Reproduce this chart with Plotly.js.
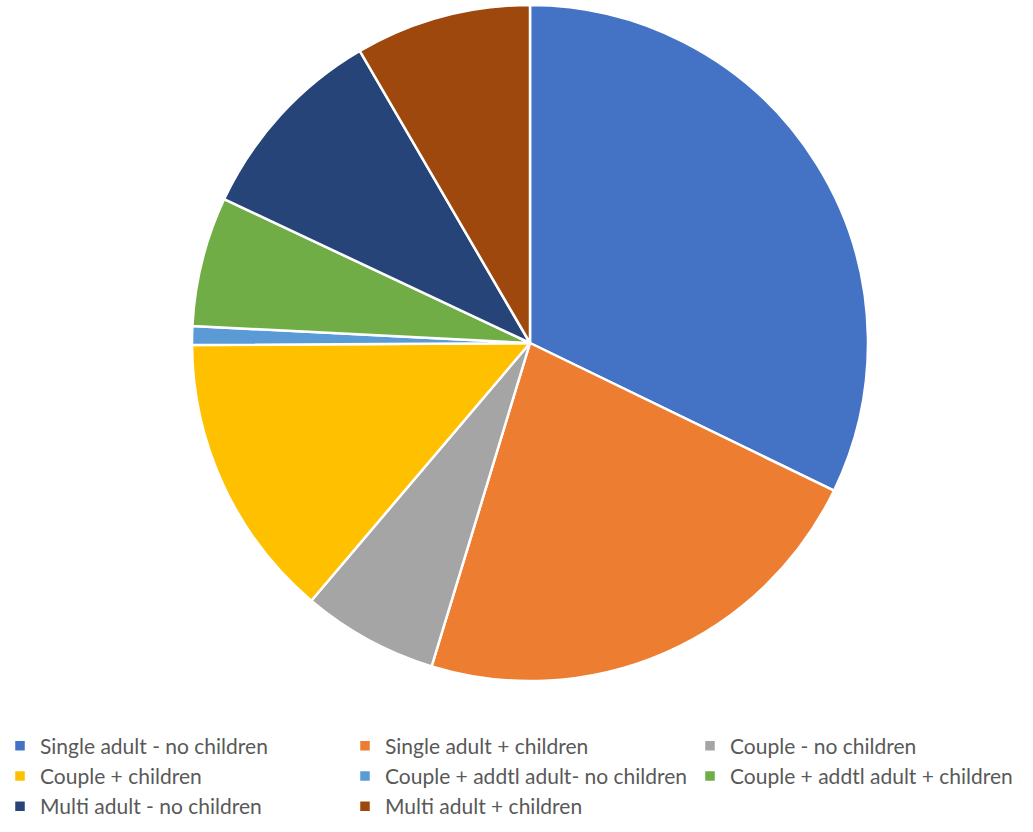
<!DOCTYPE html>
<html>
<head>
<meta charset="utf-8">
<script src="https://cdn.plot.ly/plotly-3.0.1.min.js"></script>
<style>html,body{margin:0;padding:0;background:#fff;}#chart{width:1033px;height:832px;}</style>
</head>
<body>
<div id="chart"></div>
<script>
const categories = [
  "Single adult - no children",
  "Single adult + children",
  "Couple - no children",
  "Couple + children",
  "Couple + addtl adult- no children",
  "Couple + addtl adult + children",
  "Multi adult - no children",
  "Multi adult + children"
];
const shares = [32.2, 22.5, 6.5, 13.7, 0.9, 6.2, 9.6, 8.4];
const colors = ["#4472C4", "#ED7D31", "#A5A5A5", "#FFC000", "#5B9BD5", "#70AD47", "#264478", "#9E480E"];

const W = 1033, H = 832;
const cx = 530, cy = 343, r = 338;

const data = [{
  type: "pie",
  labels: categories,
  values: shares,
  sort: false,
  direction: "clockwise",
  rotation: 0,
  textinfo: "none",
  hoverinfo: "label+percent",
  marker: { colors: colors, line: { color: "#FFFFFF", width: 2.5 } },
  domain: { x: [(cx - r) / W, (cx + r) / W], y: [1 - (cy + r) / H, 1 - (cy - r) / H] }
}];

const layout = {
  width: W, height: H,
  margin: { l: 0, r: 0, t: 0, b: 0 },
  paper_bgcolor: "#FFFFFF",
  showlegend: true,
  legend: {
    orientation: "h",
    x: 6 / W, xanchor: "left",
    y: 1 - 776 / H, yanchor: "middle",
    entrywidth: 300, entrywidthmode: "pixels",
    traceorder: "normal",
    font: { family: "Lato, 'Open Sans', sans-serif", size: 21, color: "#595959" }
  }
};

Plotly.newPlot("chart", data, layout, { displayModeBar: false });
</script>
</body>
</html>
